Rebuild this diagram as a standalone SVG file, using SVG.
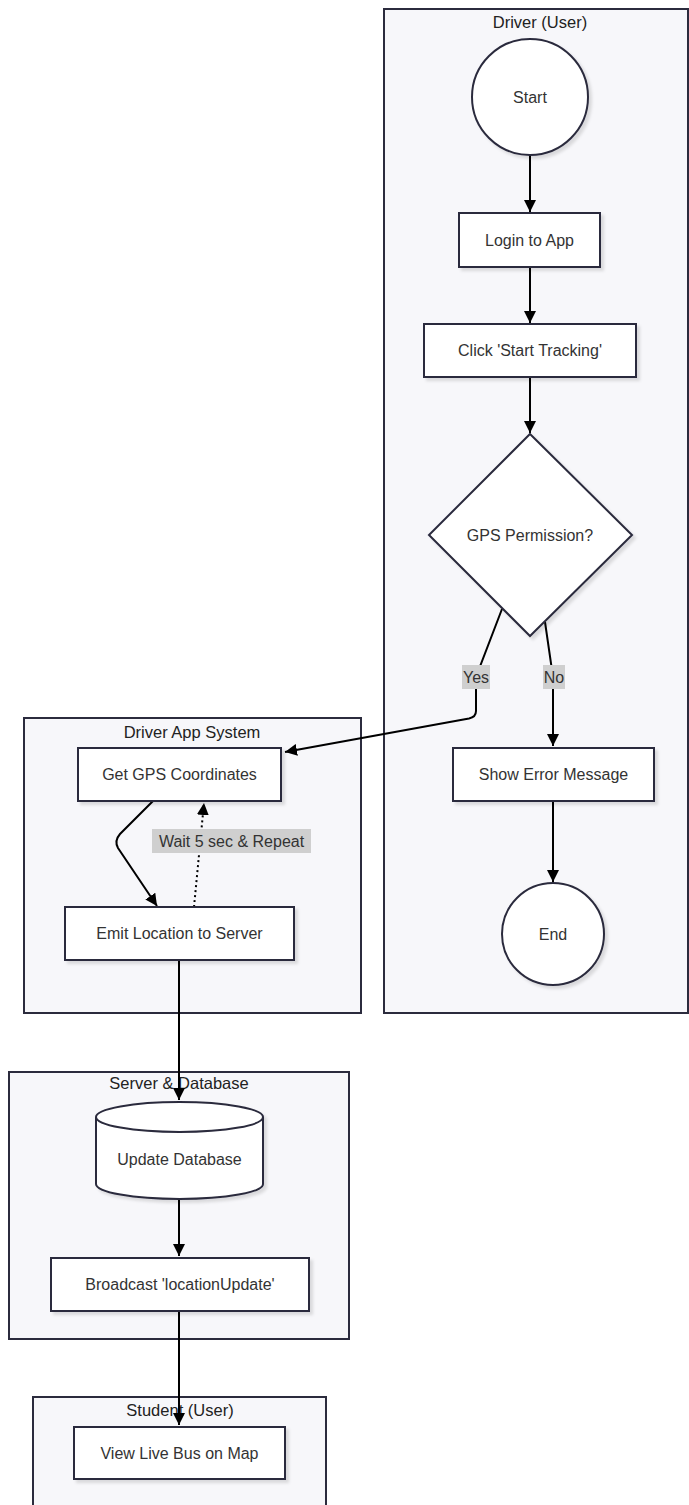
<svg xmlns="http://www.w3.org/2000/svg" width="689" height="1505" viewBox="0 0 689 1505">
<style>
.cluster{fill:#f7f7fa;stroke:#2b2b3d;stroke-width:2}
.node{fill:#ffffff;stroke:#2b2b3d;stroke-width:2;filter:url(#sh)}
.ctitle{font-family:"Liberation Sans",Arial,sans-serif;font-size:16.5px;fill:#222;text-anchor:middle}
.t{font-family:"Liberation Sans",Arial,sans-serif;font-size:16px;fill:#333;text-anchor:middle}
.edge{fill:none;stroke:#000;stroke-width:2;marker-end:url(#arr)}
.dot{stroke-dasharray:2 3}
.lbg{fill:#cfcfcf}
.lt{font-family:"Liberation Sans",Arial,sans-serif;font-size:16px;fill:#333;text-anchor:middle}
</style>
<defs>
<marker id="arr" viewBox="0 0 10 10" refX="10" refY="5" markerWidth="12" markerHeight="12" markerUnits="userSpaceOnUse" orient="auto">
<path d="M0,0 L10,5 L0,10 z" fill="#000"/>
</marker>
<filter id="sh" x="-10%" y="-10%" width="130%" height="140%">
<feDropShadow dx="3" dy="3" stdDeviation="1.5" flood-color="#000" flood-opacity="0.12"/>
</filter>
</defs>
<rect width="689" height="1505" fill="#ffffff"/>

<g id="cluster-driver">
<rect class="cluster" x="384" y="9" width="304" height="1004"/>
<text class="ctitle" x="540" y="28">Driver (User)</text>
</g>
<g id="cluster-app">
<rect class="cluster" x="24" y="718" width="337" height="295"/>
<text class="ctitle" x="192" y="738">Driver App System</text>
</g>
<g id="cluster-server">
<rect class="cluster" x="9" y="1072" width="340" height="267"/>
<text class="ctitle" x="179" y="1089">Server &amp; Database</text>
</g>
<g id="cluster-student">
<rect class="cluster" x="33" y="1397" width="293" height="120"/>
<text class="ctitle" x="180" y="1416">Student (User)</text>
</g>

<g id="connectors">
<path class="edge" d="M530,155 L530,212"/>
<path class="edge" d="M530,267 L530,323"/>
<path class="edge" d="M530,377 L530,433"/>
<path class="edge" d="M502,609 L476,677 L476,711 Q476,717 469,718.5 L285,752"/>
<path class="edge" d="M545,622 L553,677 L553,746"/>
<path class="edge" d="M553,801 L553,882"/>
<path class="edge" d="M153,801 L120,834 Q114,841 118,848 L157,906"/>
<path class="edge dot" d="M194,907 L204,803"/>
<path class="edge" d="M179,960 L179,1100"/>
<path class="edge" d="M179,1199 L179,1256"/>
<path class="edge" d="M179,1311 L179,1425"/>
</g>

<g id="start">
<circle class="node" cx="530" cy="97" r="58"/>
<text class="t" x="530" y="103">Start</text>
</g>
<g id="login">
<rect class="node" x="459" y="213" width="141" height="54"/>
<text class="t" x="529.5" y="246">Login to App</text>
</g>
<g id="click">
<rect class="node" x="424" y="324" width="212" height="53"/>
<text class="t" x="530" y="356">Click 'Start Tracking'</text>
</g>
<g id="gps-permission">
<polygon class="node" points="530,434 632,535 530,636 429,535"/>
<text class="t" x="530" y="541">GPS Permission?</text>
</g>
<g id="show-error">
<rect class="node" x="453" y="748" width="201" height="53"/>
<text class="t" x="553.5" y="780">Show Error Message</text>
</g>
<g id="end">
<circle class="node" cx="553" cy="934" r="51"/>
<text class="t" x="553" y="940">End</text>
</g>
<g id="get-gps">
<rect class="node" x="78" y="748" width="203" height="53"/>
<text class="t" x="179.5" y="780">Get GPS Coordinates</text>
</g>
<g id="emit">
<rect class="node" x="65" y="907" width="229" height="53"/>
<text class="t" x="179.5" y="939">Emit Location to Server</text>
</g>
<g id="update-db">
<path class="node" d="M96,1117 A83.5,15 0 0 1 263,1117 L263,1184 A83.5,15 0 0 1 96,1184 Z"/>
<path d="M96,1117 A83.5,15 0 0 0 263,1117" fill="none" stroke="#2b2b3d" stroke-width="2"/>
<text class="t" x="179.5" y="1165">Update Database</text>
</g>
<g id="broadcast">
<rect class="node" x="51" y="1258" width="258" height="53"/>
<text class="t" x="180" y="1290">Broadcast 'locationUpdate'</text>
</g>
<g id="view-bus">
<rect class="node" x="74" y="1427" width="211" height="52"/>
<text class="t" x="179.5" y="1459">View Live Bus on Map</text>
</g>

<g id="edge-labels">
<rect class="lbg" x="462" y="665" width="28" height="24"/>
<text class="lt" x="476" y="683">Yes</text>
<rect class="lbg" x="543" y="665" width="22" height="24"/>
<text class="lt" x="554" y="683">No</text>
<rect class="lbg" x="152" y="829" width="159" height="24"/>
<text class="lt" x="231.5" y="847">Wait 5 sec &amp; Repeat</text>
</g>
</svg>
